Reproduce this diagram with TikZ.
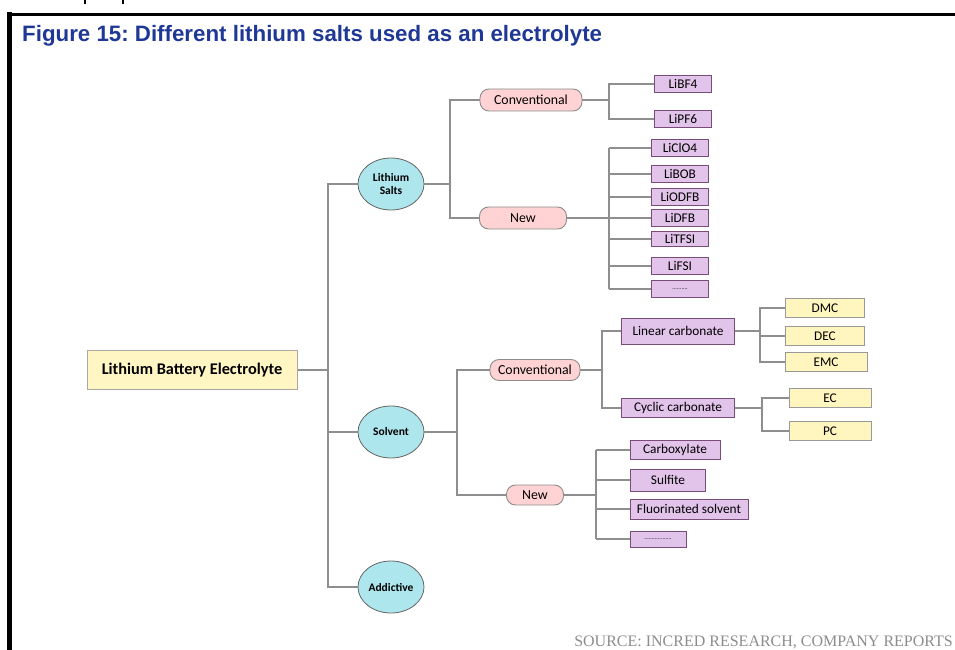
\documentclass[tikz,border=0pt]{standalone}
\usepackage{fontspec}
\setmainfont{Carlito}
\newfontfamily\titlefont{Liberation Sans}
\newfontfamily\srcfont{Liberation Serif}
\usetikzlibrary{shapes.geometric}
\frenchspacing

\definecolor{linegray}{HTML}{8E8E8E}
\definecolor{titleblue}{RGB}{31,56,150}
\definecolor{rootyellow}{HTML}{FFF6C4}
\definecolor{leafyellow}{HTML}{FFF5BE}
\definecolor{bubblecyan}{HTML}{AEE6EE}
\definecolor{tagpink}{HTML}{FFD3D3}
\definecolor{saltpurple}{HTML}{E2C3EA}

\tikzset{
  conn/.style={draw=linegray, line width=1.3pt},
  rootbox/.style={draw=black!35, fill=rootyellow, line width=1pt, inner sep=0,
    minimum width=210, minimum height=39, font=\bfseries\fontsize{16.3}{18}\selectfont},
  bubble/.style={ellipse, draw=black!60, fill=bubblecyan, line width=0.8pt, inner sep=0,
    minimum width=66, minimum height=52, align=center,
    font=\bfseries\fontsize{11.5}{12.5}\selectfont},
  tag/.style={draw=black!45, fill=tagpink, line width=0.9pt, rounded corners=9pt,
    inner sep=0, minimum height=22, font=\fontsize{13.8}{15}\selectfont},
  leaf/.style={draw=black!50!violet!70, fill=saltpurple, line width=1pt, inner sep=0,
    minimum height=17, font=\fontsize{13.3}{15}\selectfont},
  sleaf/.style={draw=black!40, fill=leafyellow, line width=1pt, inner sep=0,
    minimum height=19, font=\fontsize{13.3}{15}\selectfont}
}

\begin{document}
\begin{tikzpicture}[x=1pt, y=-1pt]
  \useasboundingbox (0,0) rectangle (955,650);

  % frame, title and source
  \draw[line width=3pt] (7,14.5) -- (955,14.5);
  \draw[line width=5pt] (9.5,12) -- (9.5,650);
  \draw[line width=1.6pt] (85,0) -- (85,4);
  \draw[line width=1.6pt] (123,0) -- (123,4);
  \node[anchor=base west, inner sep=0, text=titleblue,
    font=\titlefont\bfseries\fontsize{22.3}{24}\selectfont] (title) at (22,42)
    {Figure 15: Different lithium salts used as an electrolyte};
  \node[anchor=base east, inner sep=0, text=black!45,
    font=\srcfont\fontsize{16}{18}\selectfont] (source) at (953,646)
    {SOURCE: INCRED RESEARCH, COMPANY REPORTS};

  % root and first level
  \node[rootbox] (root) at (192,370) {Lithium Battery Electrolyte};
  \node[bubble] (salts) at (391,184) {Lithium\\Salts};
  \node[bubble] (solv) at (391,432) {Solvent};
  \node[bubble] (add) at (391,587) {Addictive};

  % lithium salts
  \node[tag, minimum width=102] (sconv) at (531,100) {Conventional};
  \node[tag, minimum width=87] (snew) at (523,218) {New};
  \node[leaf, minimum width=57] (bf) at (683,84) {LiBF4};
  \node[leaf, minimum width=57] (pf) at (683,119) {LiPF6};
  \node[leaf, minimum width=57] (clo) at (680,148) {LiClO4};
  \node[leaf, minimum width=57] (bob) at (680,174) {LiBOB};
  \node[leaf, minimum width=57] (odfb) at (680,197) {LiODFB};
  \node[leaf, minimum width=57] (dfb) at (680,218) {LiDFB};
  \node[leaf, minimum width=57, minimum height=15] (tfsi) at (680,239) {LiTFSI};
  \node[leaf, minimum width=57] (fsi) at (680,266) {LiFSI};
  \node[leaf, minimum width=57] (sdots) at (680,289) {\fontsize{6}{7}\selectfont ..........};

  % solvent
  \node[tag, minimum width=90, minimum height=21] (vconv) at (535,370) {Conventional};
  \node[tag, minimum width=57, minimum height=20] (vnew) at (535,495) {New};
  \node[leaf, minimum width=113, minimum height=26] (lin) at (678,331) {Linear carbonate};
  \node[leaf, minimum width=113, minimum height=19] (cyc) at (678,408) {Cyclic carbonate};
  \node[sleaf, minimum width=79] (dmc) at (825,308) {DMC};
  \node[sleaf, minimum width=79] (dec) at (825,336) {DEC};
  \node[sleaf, minimum width=82] (emc) at (826,362) {EMC};
  \node[sleaf, minimum width=82] (ec) at (830,398) {EC};
  \node[sleaf, minimum width=82] (pc) at (830,431) {PC};
  \node[leaf, minimum width=90, minimum height=19] (carb) at (675,450) {Carboxylate};
  \node[leaf, minimum width=75, minimum height=22] (sulf) at (668,480) {Sulfite};
  \node[leaf, minimum width=118, minimum height=20] (fluo) at (689,509) {Fluorinated solvent};
  \node[leaf, minimum width=56, minimum height=16] (vdots) at (658,539) {\fontsize{6}{7}\selectfont ..................};

  % junctions
  \coordinate (j0) at (328,370);
  \coordinate (j1) at (450,184);
  \coordinate (j2) at (609,100);
  \coordinate (j3) at (609,218);
  \coordinate (j4) at (457,432);
  \coordinate (j5) at (602,370);
  \coordinate (j6) at (760,331);
  \coordinate (j7) at (762,408);
  \coordinate (j8) at (596,495);

  % connectors
  \draw[conn] (root.east) -- (j0);
  \draw[conn] (salts.west) -| (j0) |- (add.west);
  \draw[conn] (j0 |- solv.west) -- (solv.west);

  \draw[conn] (salts.east) -- (j1);
  \draw[conn] (sconv.west) -| (j1) |- (snew.west);
  \draw[conn] (sconv.east) -- (j2);
  \draw[conn] (bf.west) -| (j2) |- (pf.west);
  \draw[conn] (snew.east) -- (j3);
  \draw[conn] (j3 |- clo.west) -- (j3 |- sdots.west);
  \foreach \n in {clo,bob,odfb,dfb,tfsi,fsi,sdots}
    \draw[conn] (j3 |- \n.west) -- (\n.west);

  \draw[conn] (solv.east) -- (j4);
  \draw[conn] (vconv.west) -| (j4) |- (vnew.west);
  \draw[conn] (vconv.east) -- (j5);
  \draw[conn] (lin.west) -| (j5) |- (cyc.west);
  \draw[conn] (lin.east) -- (j6);
  \draw[conn] (dmc.west) -| (j6) |- (emc.west);
  \draw[conn] (j6 |- dec.west) -- (dec.west);
  \draw[conn] (cyc.east) -- (j7);
  \draw[conn] (ec.west) -| (j7) |- (pc.west);
  \draw[conn] (vnew.east) -- (j8);
  \draw[conn] (j8 |- carb.west) -- (j8 |- vdots.west);
  \foreach \n in {carb,sulf,fluo,vdots}
    \draw[conn] (j8 |- \n.west) -- (\n.west);
\end{tikzpicture}
\end{document}
